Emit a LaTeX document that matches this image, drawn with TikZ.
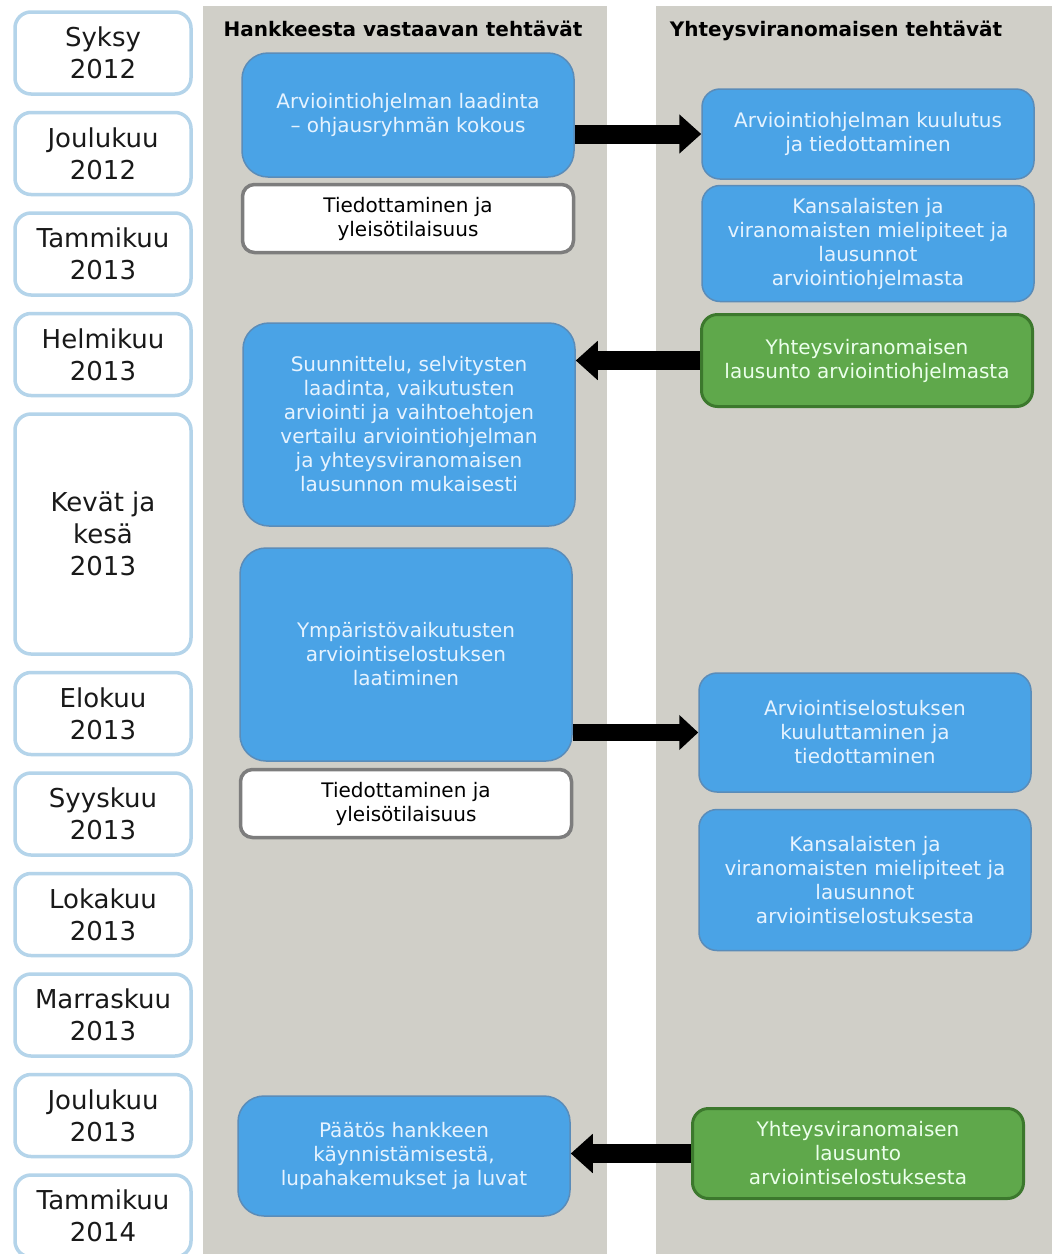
\documentclass[tikz,border=0pt]{standalone}
\usepackage{fontspec}
\setmainfont{DejaVu Sans}
\usepackage{xcolor}
\usepackage{tikz}
\usetikzlibrary{positioning, arrows.meta}

\definecolor{panelgrey}{RGB}{208,207,200}
\definecolor{taskblue}{RGB}{74,163,230}
\definecolor{taskline}{RGB}{90,140,185}
\definecolor{tasktext}{RGB}{230,243,255}
\definecolor{monthline}{RGB}{180,212,234}
\definecolor{infoline}{RGB}{125,125,125}
\definecolor{stmtgreen}{RGB}{95,168,75}
\definecolor{stmtline}{RGB}{60,120,45}

\begin{document}
\begin{tikzpicture}[x=1pt, y=-1pt,
        month/.style={draw=monthline, line width=3.5pt, fill=white, rounded corners=16pt,
            minimum width=176pt, minimum height=82pt, align=center, text=black!90,
            font=\fontsize{26}{32}\selectfont},
        task/.style={draw=taskline, line width=1.5pt, fill=taskblue, rounded corners=26pt,
            minimum width=332pt, align=center, text=tasktext,
            font=\fontsize{20}{24}\selectfont},
        info/.style={draw=infoline, line width=3.5pt, fill=white, rounded corners=12pt,
            minimum width=331pt, minimum height=68pt, align=center, text=black,
            font=\fontsize{20}{24}\selectfont},
        statement/.style={draw=stmtline, line width=3pt, fill=stmtgreen, rounded corners=16pt,
            minimum width=331pt, align=center, text=white!92!green,
            font=\fontsize{20}{24}\selectfont},
        heading/.style={font=\fontsize{20}{24}\selectfont\bfseries, text=black},
        flow/.style={line width=19pt, -{Triangle[length=22pt, width=38pt]}}]

    \clip (0,0) rectangle (1052,1254);
    \fill[white] (0,0) rectangle (1052,1254);
    \fill[panelgrey] (203,6) rectangle (607,1260);
    \fill[panelgrey] (656,6) rectangle (1060,1260);

    \node[heading] (hleft)  at (403,29) {Hankkeesta vastaavan tehtävät};
    \node[heading] (hright) at (836,31) {Yhteysviranomaisen tehtävät};

    \node[month]                        (m1)  at (103,53) {Syksy\\2012};
    \node[month, below=15pt of m1]      (m2)  {Joulukuu\\2012};
    \node[month, below=15pt of m2]      (m3)  {Tammikuu\\2013};
    \node[month, below=15pt of m3]      (m4)  {Helmikuu\\2013};
    \node[month, below=15pt of m4, minimum height=240pt] (m5) {Kevät ja\\kesä\\2013};
    \node[month, below=15pt of m5]      (m6)  {Elokuu\\2013};
    \node[month, below=15pt of m6]      (m7)  {Syyskuu\\2013};
    \node[month, below=15pt of m7]      (m8)  {Lokakuu\\2013};
    \node[month, below=15pt of m8]      (m9)  {Marraskuu\\2013};
    \node[month, below=15pt of m9]      (m10) {Joulukuu\\2013};
    \node[month, below=15pt of m10]     (m11) {Tammikuu\\2014};

    \node[task, minimum height=124pt]   (laadinta) at (408,115) {Arviointiohjelman laadinta\\– ohjausryhmän kokous};
    \node[info, below=5pt of laadinta]  (info1) {Tiedottaminen ja\\yleisötilaisuus};
    \node[task, minimum height=203pt]   (selvitys) at (409,424.5) {Suunnittelu, selvitysten\\laadinta, vaikutusten\\arviointi ja vaihtoehtojen\\vertailu arviointiohjelman\\ja yhteysviranomaisen\\lausunnon mukaisesti};
    \node[task, minimum height=213pt]   (selostus) at (406,654.5) {Ympäristövaikutusten\\arviointiselostuksen\\laatiminen};
    \node[info, below=6pt of selostus]  (info2) {Tiedottaminen ja\\yleisötilaisuus};
    \node[task, minimum height=120pt]   (paatos) at (404,1156) {Päätös hankkeen\\käynnistämisestä,\\lupahakemukset ja luvat};

    \node[task, minimum height=90pt, rounded corners=18pt]  (kuulutus) at (868,134) {Arviointiohjelman kuulutus\\ja tiedottaminen};
    \node[task, minimum height=116pt, rounded corners=18pt, below=5pt of kuulutus] (mielipide1) {Kansalaisten ja\\viranomaisten mielipiteet ja\\lausunnot\\arviointiohjelmasta};
    \node[statement, minimum height=92pt] (lausunto1) at (867,360.5) {Yhteysviranomaisen\\lausunto arviointiohjelmasta};
    \node[task, minimum height=119pt, rounded corners=18pt] (kuulutus2) at (865,732.5) {Arviointiselostuksen\\kuuluttaminen ja\\tiedottaminen};
    \node[task, minimum height=141pt, rounded corners=18pt, below=16pt of kuulutus2] (mielipide2) {Kansalaisten ja\\viranomaisten mielipiteet ja\\lausunnot\\arviointiselostuksesta};
    \node[statement, minimum height=90pt] (lausunto2) at (858,1153.5) {Yhteysviranomaisen\\lausunto\\arviointiselostuksesta};

    \draw[flow] (laadinta.east |- kuulutus.west) -- (kuulutus.west);
    \draw[flow] (lausunto1.west) -- (lausunto1.west -| selvitys.east);
    \draw[flow, line width=17pt, -{Triangle[length=19pt, width=34pt]}] (selostus.east |- kuulutus2.west) -- (kuulutus2.west);
    \draw[flow] (lausunto2.west) -- (lausunto2.west -| paatos.east);

\end{tikzpicture}
\end{document}
